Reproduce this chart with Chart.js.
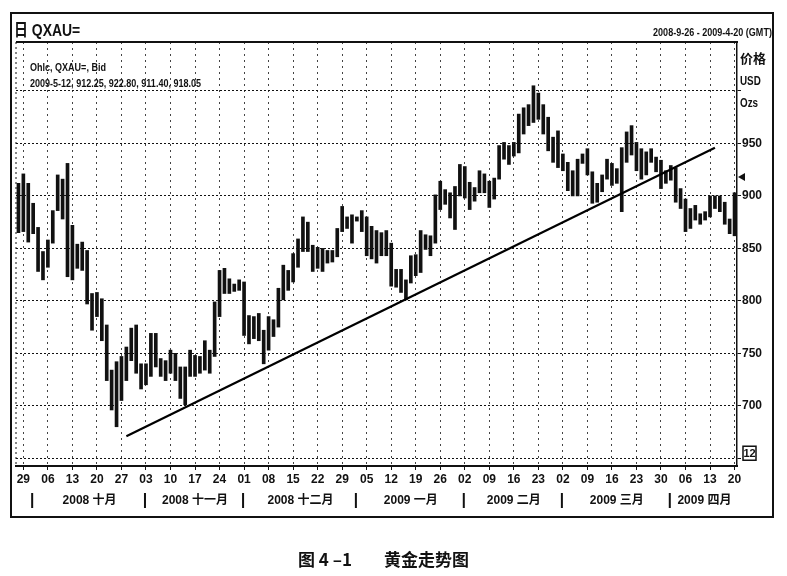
<!DOCTYPE html>
<html>
<head>
<meta charset="utf-8">
<script src="https://cdn.jsdelivr.net/npm/chart.js@4.4.0/dist/chart.umd.min.js"></script>
<style>
  body { margin: 0; background: #fff; }
  #wrap { position: relative; width: 787px; height: 576px; color: #111;
          font-family: "Liberation Sans", Arial, "Noto Sans CJK SC", sans-serif; }
  #chart { position: absolute; left: 0; top: 0; }
  #frame { position: absolute; left: 10px; top: 12px; width: 760px; height: 502px; border: 2px solid #111; }
  .t { position: absolute; font-weight: bold; white-space: nowrap; line-height: 1; }
  .nar { transform: scaleX(0.82); transform-origin: left top; }
  .narR { transform: scaleX(0.82); transform-origin: right top; }
  .cap { font-family: "Noto Sans CJK SC", sans-serif; font-size: 17px; }
</style>
</head>
<body>
<div id="wrap">
  <div id="frame"></div>
  <canvas id="chart" width="787" height="576"></canvas>
  <div class="t nar" style="left:14px; top:22px; font-size:17px;">日 QXAU=</div>
  <div class="t narR" style="right:15px; top:27px; font-size:11px;">2008-9-26 - 2009-4-20 (GMT)</div>
  <div class="t nar" style="left:30px; top:62px; font-size:11px;">Ohlc, QXAU=, Bid</div>
  <div class="t nar" style="left:30px; top:78px; font-size:11px;">2009-5-12, 912.25, 922.80, 911.40, 918.05</div>
  <div class="t" style="left:740px; top:51px; font-size:13px; font-family:'Noto Sans CJK SC',sans-serif;">价格</div>
  <div class="t nar" style="left:740px; top:75px; font-size:12px;">USD</div>
  <div class="t nar" style="left:740px; top:97px; font-size:12px;">Ozs</div>
  <div class="t cap" style="left:298px; top:550px;">图 4 –1</div>
  <div class="t cap" style="left:384px; top:550px;">黄金走势图</div>
</div>
<script>
const FONT = "'Liberation Sans', Arial, 'Noto Sans CJK SC', sans-serif";

// trading days (weekdays) of the chart window
const startDay = '2008-09-26';
const endDay = '2009-04-20';
const dates = [];
for (let d = new Date(startDay + 'T00:00:00Z'); d <= new Date(endDay + 'T00:00:00Z'); d.setUTCDate(d.getUTCDate() + 1)) {
  const wd = d.getUTCDay();
  if (wd > 0 && wd < 6) dates.push(d.toISOString().slice(0, 10));
}

// daily high / low, USD per oz
const highs = [
  912, 921, 912, 893, 870, 847, 858, 886, 920, 916,
  931, 872, 854, 856, 848, 807, 808, 802, 777, 734,
  742, 747, 756, 774, 777, 740, 740, 769, 769, 745,
  743, 753, 750, 737, 737, 753, 748, 747, 762, 753,
  799, 829, 831, 821, 816, 820, 818, 786, 785, 788,
  772, 785, 782, 812, 834, 829, 845, 859, 880, 875,
  853, 851, 850, 848, 848, 869, 890, 880, 882, 880,
  886, 880, 871, 867, 865, 867, 855, 830, 830, 820,
  843, 844, 867, 863, 862, 901, 914, 906, 903, 909,
  930, 928, 913, 908, 924, 921, 914, 917, 948, 951,
  948, 951, 978, 984, 987, 1005, 998, 987, 975, 956,
  962, 940, 932, 924, 935, 940, 945, 923, 912, 920,
  935, 931, 926, 946, 961, 967, 951, 945, 942, 945,
  937, 934, 924, 929, 927, 907, 897, 888, 891, 883,
  885, 900, 900, 900, 894, 878, 903
];
const lows = [
  865, 866, 856, 864, 828, 820, 832, 855, 886, 878,
  823, 820, 831, 829, 797, 772, 785, 762, 724, 696,
  680, 705, 724, 743, 731, 716, 720, 728, 737, 728,
  724, 731, 724, 707, 701, 728, 728, 731, 734, 731,
  747, 785, 807, 807, 809, 810, 767, 759, 764, 762,
  740, 753, 766, 775, 801, 810, 818, 832, 847, 847,
  828, 831, 828, 836, 837, 842, 866, 869, 855, 876,
  866, 843, 840, 836, 843, 843, 814, 813, 808, 801,
  817, 824, 827, 849, 843, 855, 887, 892, 879, 868,
  900, 898, 887, 895, 903, 903, 889, 897, 916, 935,
  930, 938, 941, 959, 967, 970, 973, 959, 943, 932,
  927, 924, 905, 900, 900, 931, 920, 893, 894, 904,
  916, 910, 912, 885, 932, 939, 924, 916, 920, 932,
  923, 907, 912, 915, 894, 888, 866, 869, 877, 873,
  877, 880, 888, 885, 873, 864, 862
];

// hand-drawn trend line
const trendDates = ['2008-10-28', '2009-04-14'];
const trendValues = [671, 946];

const yTickLabels = [700, 750, 800, 850, 900, 950];
const monthStarts = ['2008-10', '2008-11', '2008-12', '2009-01', '2009-02', '2009-03', '2009-04'];
const monthNames = ['2008 十月', '2008 十一月', '2008 十二月', '2009 一月', '2009 二月', '2009 三月', '2009 四月'];
const lastClose = 918.05;

const isMonday = i => dates[i] && new Date(dates[i] + 'T00:00:00Z').getUTCDay() === 1;

// extra drawing: plot top edge, last price arrow, month row
const decor = {
  id: 'decor',
  afterDraw(chart) {
    const { ctx, chartArea: a, scales: { x, y } } = chart;
    ctx.save();
    ctx.strokeStyle = '#111';
    ctx.fillStyle = '#111';
    ctx.lineWidth = 2;
    ctx.beginPath(); ctx.moveTo(a.left, a.top); ctx.lineTo(a.right + 1, a.top); ctx.stroke();
    ctx.lineWidth = 1;
    ctx.setLineDash([2, 3]);
    ctx.beginPath(); ctx.moveTo(a.left, a.top); ctx.lineTo(a.left, a.bottom); ctx.stroke();
    ctx.setLineDash([]);

    const py = y.getPixelForValue(lastClose);
    ctx.beginPath();
    ctx.moveTo(a.right + 1, py);
    ctx.lineTo(a.right + 8, py - 4);
    ctx.lineTo(a.right + 8, py + 4);
    ctx.closePath();
    ctx.fill();

    const by = y.getPixelForValue(650) - 5;
    ctx.lineWidth = 1.5;
    ctx.strokeRect(a.right + 6, by - 7, 13, 14);
    ctx.font = 'bold 11px ' + FONT;
    ctx.textAlign = 'center';
    ctx.textBaseline = 'middle';
    ctx.fillText('12', a.right + 12.5, by + 0.5);

    const starts = monthStarts.map(m => dates.findIndex(d => d.startsWith(m)));
    ctx.font = 'bold 12px ' + FONT;
    starts.forEach((s, k) => {
      const sx = x.getPixelForValue(s) - 1;
      const ex = k + 1 < starts.length ? x.getPixelForValue(starts[k + 1]) - 1 : a.right;
      ctx.fillRect(sx - 1, a.bottom + 27, 2, 15);
      ctx.fillText(monthNames[k], (sx + ex) / 2 + 1, a.bottom + 35);
    });
    ctx.restore();
  }
};

Chart.defaults.font.family = FONT;
Chart.defaults.color = '#111';

new Chart(document.getElementById('chart'), {
  type: 'bar',
  data: {
    labels: dates,
    datasets: [
      {
        type: 'line',
        data: trendDates.map((d, i) => ({ x: d, y: trendValues[i] })),
        borderColor: '#000',
        borderWidth: 2.2,
        pointRadius: 0,
        order: 0
      },
      {
        type: 'bar',
        data: highs.map((h, i) => [lows[i], h]),
        backgroundColor: '#111',
        borderWidth: 0,
        barThickness: 3,
        grouped: false,
        order: 1
      }
    ]
  },
  options: {
    responsive: false,
    animation: false,
    layout: { padding: { left: 16, top: 42, right: 0, bottom: 90 } },
    plugins: { legend: { display: false }, tooltip: { enabled: false } },
    scales: {
      x: {
        offset: true,
        afterFit: s => { s.height = 20; },
        grid: {
          offset: false,
          color: c => isMonday(c.index) ? '#444' : 'rgba(0,0,0,0)',
          tickColor: c => isMonday(c.index) ? '#111' : 'rgba(0,0,0,0)',
          lineWidth: 1,
          tickLength: 4
        },
        border: { color: '#111', width: 2, dash: [2, 4] },
        ticks: {
          autoSkip: false,
          maxRotation: 0,
          padding: 2,
          font: { size: 12, weight: 'bold' },
          callback: (v, i) => isMonday(i) ? dates[i].slice(8) : ''
        }
      },
      y: {
        position: 'right',
        min: 642.6,
        max: 1046.7,
        afterFit: s => { s.width = 50; },
        grid: { color: '#111', lineWidth: 1, tickLength: 4, tickColor: '#111' },
        border: { color: '#111', width: 1.5, dash: [2, 2] },
        ticks: {
          stepSize: 50,
          includeBounds: false,
          padding: 1,
          font: { size: 12, weight: 'bold' },
          callback: v => yTickLabels.includes(v) ? String(v) : ''
        }
      }
    }
  },
  plugins: [decor]
});
</script>
</body>
</html>
